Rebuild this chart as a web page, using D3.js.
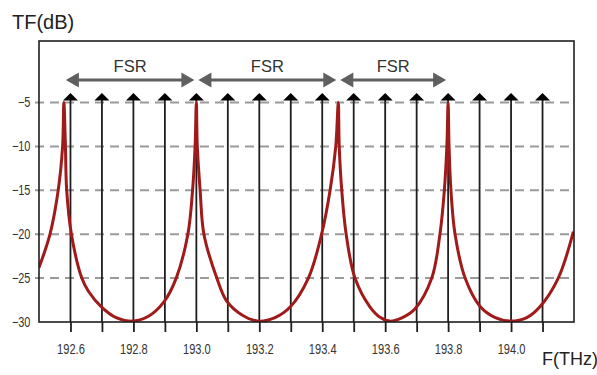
<!DOCTYPE html>
<html>
<head>
<meta charset="utf-8">
<script src="https://cdn.jsdelivr.net/npm/d3@7"></script>
<style>
  body { margin: 0; background: #fff; }
  svg { display: block; }
  text { font-family: "Liberation Sans", Arial, sans-serif; }
</style>
</head>
<body>
<svg id="chart" width="597" height="375"></svg>
<script>
// Frequency grid (THz): one channel line every 0.1 THz
const freqGrid = [192.6, 192.7, 192.8, 192.9, 193.0, 193.1, 193.2, 193.3,
                  193.4, 193.5, 193.6, 193.7, 193.8, 193.9, 194.0, 194.1];
const freqLabels = ["192.6", "192.8", "193.0", "193.2", "193.4", "193.6", "193.8", "194.0"];
const dbTicks = [-5, -10, -15, -20, -25, -30];
const dbGrid = [-5, -10, -15, -20, -25];

// Resonance peaks of the transfer function (THz) and the FSR spans between them
const resonancePeaks = [192.579, 193.0, 193.451, 193.8];
const fsrLabels = ["FSR", "FSR", "FSR"];

// Transfer function samples
const tfFreq = [
  192.500, 192.535, 192.561, 192.575, 192.579, 192.584, 192.588, 192.603, 192.636, 192.657,
  192.699, 192.745, 192.795, 192.845, 192.897, 192.936, 192.973, 192.988, 192.996, 193.000,
  193.003, 193.012, 193.024, 193.065, 193.096, 193.145, 193.197, 193.250, 193.298, 193.356,
  193.398, 193.425, 193.443, 193.451, 193.454, 193.462, 193.476, 193.504, 193.552, 193.585,
  193.615, 193.655, 193.695, 193.748, 193.774, 193.788, 193.796, 193.800, 193.803, 193.809,
  193.822, 193.854, 193.901, 193.950, 194.000, 194.050, 194.091, 194.150, 194.198
];
const tfDb = [
  -23.8, -20.0, -15.0, -10.0, -5.0, -10.0, -15.0, -20.0, -25.0, -26.5,
  -28.3, -29.5, -29.9, -29.4, -27.7, -25.0, -20.0, -15.0, -10.0, -5.0,
  -10.0, -15.0, -20.0, -25.0, -27.6, -29.2, -29.9, -29.5, -28.3, -25.0,
  -20.0, -15.0, -10.0, -5.0, -10.0, -15.0, -20.0, -25.0, -28.3, -29.5,
  -29.9, -29.5, -28.5, -25.0, -20.0, -15.0, -10.0, -5.0, -10.0, -15.0,
  -20.0, -25.0, -28.2, -29.5, -29.9, -29.5, -28.3, -25.0, -19.7
];

const margin = { top: 41, right: 23, bottom: 53, left: 39 };
const W = 597, H = 375;
const width = W - margin.left - margin.right;
const height = H - margin.top - margin.bottom;

const svg = d3.select("#chart");
const g = svg.append("g").attr("transform", `translate(${margin.left},${margin.top})`);

const x = d3.scaleLinear().domain([192.5, 194.2]).range([0, width]);
const y = d3.scaleLinear().domain([-30, 2]).range([height, 0]);

svg.append("defs").append("clipPath").attr("id", "plot-clip")
  .append("rect").attr("width", width).attr("height", height);

// Dashed horizontal gridlines
g.append("g").selectAll("line").data(dbGrid).join("line")
  .attr("x1", -4).attr("x2", width)
  .attr("y1", d => y(d)).attr("y2", d => y(d))
  .attr("stroke", "#9a9a9a").attr("stroke-width", 2)
  .attr("stroke-dasharray", "9,6");

// Channel lines topped with arrowheads
const headTip = y(-5) - 9.5;
g.append("g").selectAll("line").data(freqGrid).join("line")
  .attr("x1", d => x(d)).attr("x2", d => x(d))
  .attr("y1", headTip + 4).attr("y2", height)
  .attr("stroke", "#1e1e1e").attr("stroke-width", 1.8);
g.append("g").selectAll("path").data(freqGrid).join("path")
  .attr("d", d => `M${x(d)},${headTip} L${x(d) + 7.5},${headTip + 7.5} L${x(d) - 7.5},${headTip + 7.5} Z`)
  .attr("fill", "#000");

// FSR double-headed arrows between consecutive resonances
const arrowY = 80 - margin.top;
const fsr = d3.range(resonancePeaks.length - 1).map(i => ({
  x1: x(resonancePeaks[i]) + 2,
  x2: x(resonancePeaks[i + 1]) - 2,
  label: fsrLabels[i]
}));
const fsrG = g.append("g").selectAll("g").data(fsr).join("g");
fsrG.append("line")
  .attr("x1", d => d.x1 + 10).attr("x2", d => d.x2 - 10)
  .attr("y1", arrowY).attr("y2", arrowY)
  .attr("stroke", "#5f5f5f").attr("stroke-width", 3);
fsrG.append("path")
  .attr("d", d => `M${d.x1},${arrowY} L${d.x1 + 13},${arrowY - 7.5} L${d.x1 + 13},${arrowY + 7.5} Z`)
  .attr("fill", "#5f5f5f");
fsrG.append("path")
  .attr("d", d => `M${d.x2},${arrowY} L${d.x2 - 13},${arrowY - 7.5} L${d.x2 - 13},${arrowY + 7.5} Z`)
  .attr("fill", "#5f5f5f");
fsrG.append("text")
  .attr("x", d => (d.x1 + d.x2) / 2).attr("y", arrowY - 8)
  .attr("text-anchor", "middle")
  .attr("font-size", 16.5).attr("fill", "#333")
  .text(d => d.label);

// Transfer function curve
const tf = tfFreq.map((f, i) => ({ f, db: tfDb[i] }));
g.append("path")
  .datum(tf)
  .attr("clip-path", "url(#plot-clip)")
  .attr("fill", "none")
  .attr("stroke", "#a01a1a")
  .attr("stroke-width", 3)
  .attr("stroke-linejoin", "round")
  .attr("d", d3.line().x(d => x(d.f)).y(d => y(d.db)).curve(d3.curveCatmullRom.alpha(0.5)));

// Bottom axis: a tick at every channel, labels every 0.2 THz
const xAxis = d3.axisBottom(x)
  .tickValues(freqGrid)
  .tickSize(10)
  .tickPadding(11)
  .tickFormat(d => {
    const s = d3.format(".1f")(d);
    return freqLabels.includes(s) ? s : "";
  });
const gx = g.append("g").attr("transform", `translate(0,${height})`).call(xAxis);
gx.select(".domain").remove();
gx.selectAll(".tick line").attr("stroke", "#1e1e1e").attr("stroke-width", 1.8);
gx.selectAll(".tick text")
  .attr("font-size", 15).attr("fill", "#333")
  .attr("font-family", "\"Liberation Sans\", Arial, sans-serif")
  .attr("transform", "scale(0.74,1)");

// Left axis
const yAxis = d3.axisLeft(y).tickValues(dbTicks).tickSize(0).tickPadding(11);
const gy = g.append("g").call(yAxis);
gy.select(".domain").remove();
gy.selectAll(".tick text")
  .attr("font-size", 14).attr("fill", "#333")
  .attr("font-family", "\"Liberation Sans\", Arial, sans-serif")
  .attr("transform", "scale(0.78,1)");

// Plot frame
g.append("rect")
  .attr("width", width).attr("height", height)
  .attr("fill", "none").attr("stroke", "#1e1e1e").attr("stroke-width", 1.6);

// Axis titles
svg.append("text").attr("x", 12).attr("y", 29)
  .attr("font-size", 20).attr("fill", "#222").text("TF(dB)");
svg.append("text").attr("x", 542).attr("y", 365)
  .attr("font-size", 18).attr("fill", "#222").text("F(THz)");
</script>
</body>
</html>
